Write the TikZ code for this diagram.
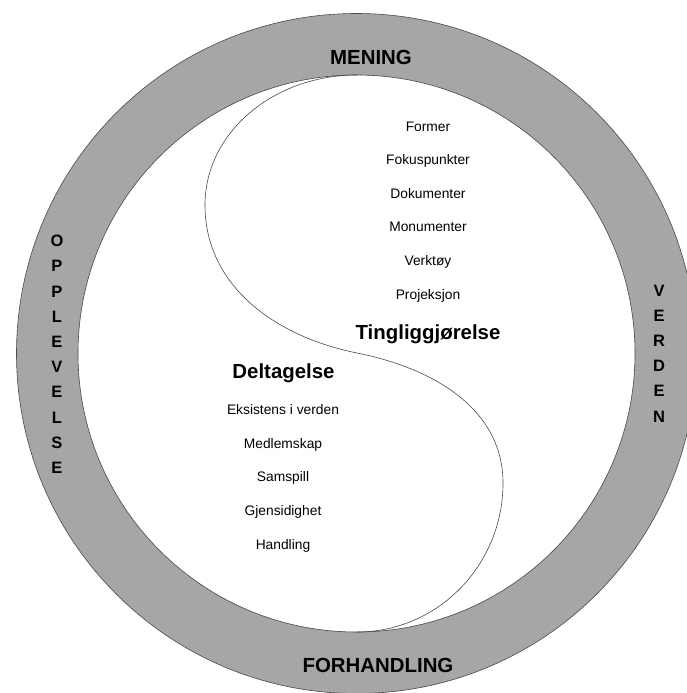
\documentclass[tikz,border=0pt]{standalone}
\usepackage{fontspec}
\setmainfont{Liberation Sans}
\definecolor{ringgray}{HTML}{A6A6A6}
\definecolor{edgegray}{HTML}{4A4A4A}
\begin{document}
\begin{tikzpicture}[x=1pt,y=-1pt,
  lbl/.style={font=\fontsize{13.8}{16}\selectfont, anchor=base, inner sep=0pt},
  head/.style={font=\bfseries\fontsize{20.4}{24}\selectfont, anchor=base, inner sep=0pt},
  vert/.style={font=\bfseries\fontsize{16.5}{25.2}\selectfont, align=center, inner sep=0pt},
  edge/.style={draw=edgegray, line width=0.6pt}]
\useasboundingbox (0,0) rectangle (687,693);
\clip (0,0) rectangle (687,693);
\fill[white] (0,0) rectangle (687,693);
% ring
\fill[ringgray, even odd rule] (356.5,353.5) circle[radius=340] (356.5,353.5) circle[radius=278.5];
\draw[edge] (356.5,353.5) circle[radius=340];
\draw[edge] (356.5,353.5) circle[radius=278.5];
% S curve
\draw[edge] (357,75) .. controls (273,75) and (205,133) .. (205,205)
  .. controls (205,287) and (277,337) .. (357,353)
  .. controls (437,369) and (503,411) .. (503,483)
  .. controls (503,565) and (438,632) .. (357,632);
% ring labels
\node[head] (mening) at (371,64) {MENING};
\node[head] (forh) at (378,672) {FORHANDLING};
\node[vert] (oppl) at (57,354.3) {O\\P\\P\\L\\E\\V\\E\\L\\S\\E};
\node[vert] (verden) at (659,353.5) {V\\E\\R\\D\\E\\N};
% right list
\node[lbl] (former) at (428,131) {Former};
\node[lbl] (fokus) at (428,164.6) {Fokuspunkter};
\node[lbl] (dok) at (428,198.2) {Dokumenter};
\node[lbl] (mon) at (428,231.8) {Monumenter};
\node[lbl] (verk) at (428,265.4) {Verktøy};
\node[lbl] (proj) at (428,299) {Projeksjon};
\node[head] (ting) at (428,339) {Tingliggjørelse};
% left list
\node[head] (delt) at (283.5,378) {Deltagelse};
\node[lbl] (eks) at (283,414.3) {Eksistens i verden};
\node[lbl] (medl) at (283,448) {Medlemskap};
\node[lbl] (sams) at (283,481.7) {Samspill};
\node[lbl] (gjen) at (283,515.4) {Gjensidighet};
\node[lbl] (hand) at (283,549.1) {Handling};
\end{tikzpicture}
\end{document}
